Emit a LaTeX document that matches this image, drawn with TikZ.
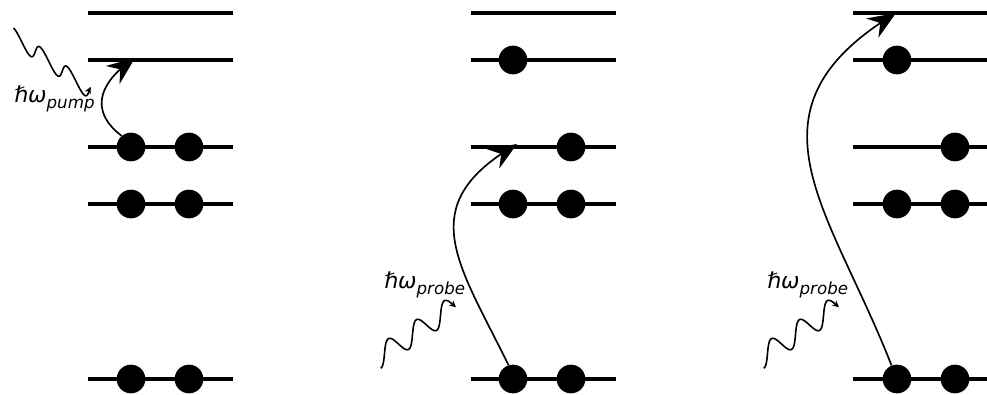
\documentclass[tikz,border=0pt]{standalone}
\usepackage{fontspec}
\setmainfont{DejaVu Sans}
\usetikzlibrary{arrows.meta, bending}
\begin{document}
\begin{tikzpicture}[x=0.75pt, y=-0.75pt]
\tikzset{
  level/.style={line width=2.3pt},
  electron/.style={circle, fill=black, inner sep=0pt, minimum size=21.5pt},
  transition/.style={line width=1.25pt, -{Stealth[length=21pt, width=17pt, inset=7pt, flex]}},
  photon/.style={line width=1.2pt, -{Stealth[length=5pt, width=5pt]}},
  energy/.style={anchor=base west, inner sep=0pt, font=\fontsize{16.5}{18}\selectfont}
}
\newcommand{\subtxt}[1]{\lower4.5pt\hbox{\fontsize{12.5}{14}\selectfont\itshape #1}}
\useasboundingbox (0,0) rectangle (987,394);

% energy levels of the three panels
\foreach \p/\xa/\xb in {A/88/233, B/471/616, C/853/987}
  \foreach \n/\y in {1/13, 2/60, 3/147, 4/204, 5/379} {
    \coordinate (\p\n w) at (\xa,\y);
    \coordinate (\p\n e) at (\xb,\y);
    \draw[level] (\p\n w) -- (\p\n e);
  }

% panel A: ground state occupation
\node[electron] (a3l) at (131,147) {};
\node[electron] (a3r) at (189,147) {};
\node[electron] (a4l) at (131,204) {};
\node[electron] (a4r) at (189,204) {};
\node[electron] (a5l) at (131,379) {};
\node[electron] (a5r) at (189,379) {};

% panel B: after pumping
\node[electron] (b2l) at (513,60) {};
\node[electron] (b3r) at (571,147) {};
\node[electron] (b4l) at (513,204) {};
\node[electron] (b4r) at (571,204) {};
\node[electron] (b5l) at (513,379) {};
\node[electron] (b5r) at (571,379) {};

% panel C: after pumping, probing a higher level
\node[electron] (c2l) at (897,60) {};
\node[electron] (c3r) at (955,147) {};
\node[electron] (c4l) at (897,204) {};
\node[electron] (c4r) at (955,204) {};
\node[electron] (c5l) at (897,379) {};
\node[electron] (c5r) at (955,379) {};

% arrival points of the transitions
\coordinate (ta) at (135,58);
\coordinate (tb) at (517,144);
\coordinate (tc) at (896,13);

% electronic transitions
\draw[transition] (a3l.130) .. controls (90,112) and (97,83) .. (ta);
\draw[transition] (b5l.108) .. controls (458,262) and (412,205) .. (tb);
\draw[transition] (c5l.112) .. controls (830,208) and (735,110) .. (tc);

% incoming photons
\draw[photon] plot[domain=0.02:2.85, samples=150, variable=\t]
  ({15+27*\t-2*cos(360*\t)}, {37+19.5*\t-9.5*cos(360*\t)});
\draw[photon] plot[domain=0:2.78, samples=150, variable=\t]
  ({377.5+28*\t+3.25*cos(360*\t)}, {358.25-19*\t+10*cos(360*\t)});
\draw[photon] plot[domain=0:2.78, samples=150, variable=\t]
  ({760.5+28*\t+3.25*cos(360*\t)}, {358.25-19*\t+10*cos(360*\t)});

% photon energies
\node[energy] (la) at (14,102.5) {ℏ\textit{ω}\subtxt{pump}};
\node[energy] (lb) at (384,288) {ℏ\textit{ω}\subtxt{probe}};
\node[energy] (lc) at (767,288) {ℏ\textit{ω}\subtxt{probe}};
\end{tikzpicture}
\end{document}
